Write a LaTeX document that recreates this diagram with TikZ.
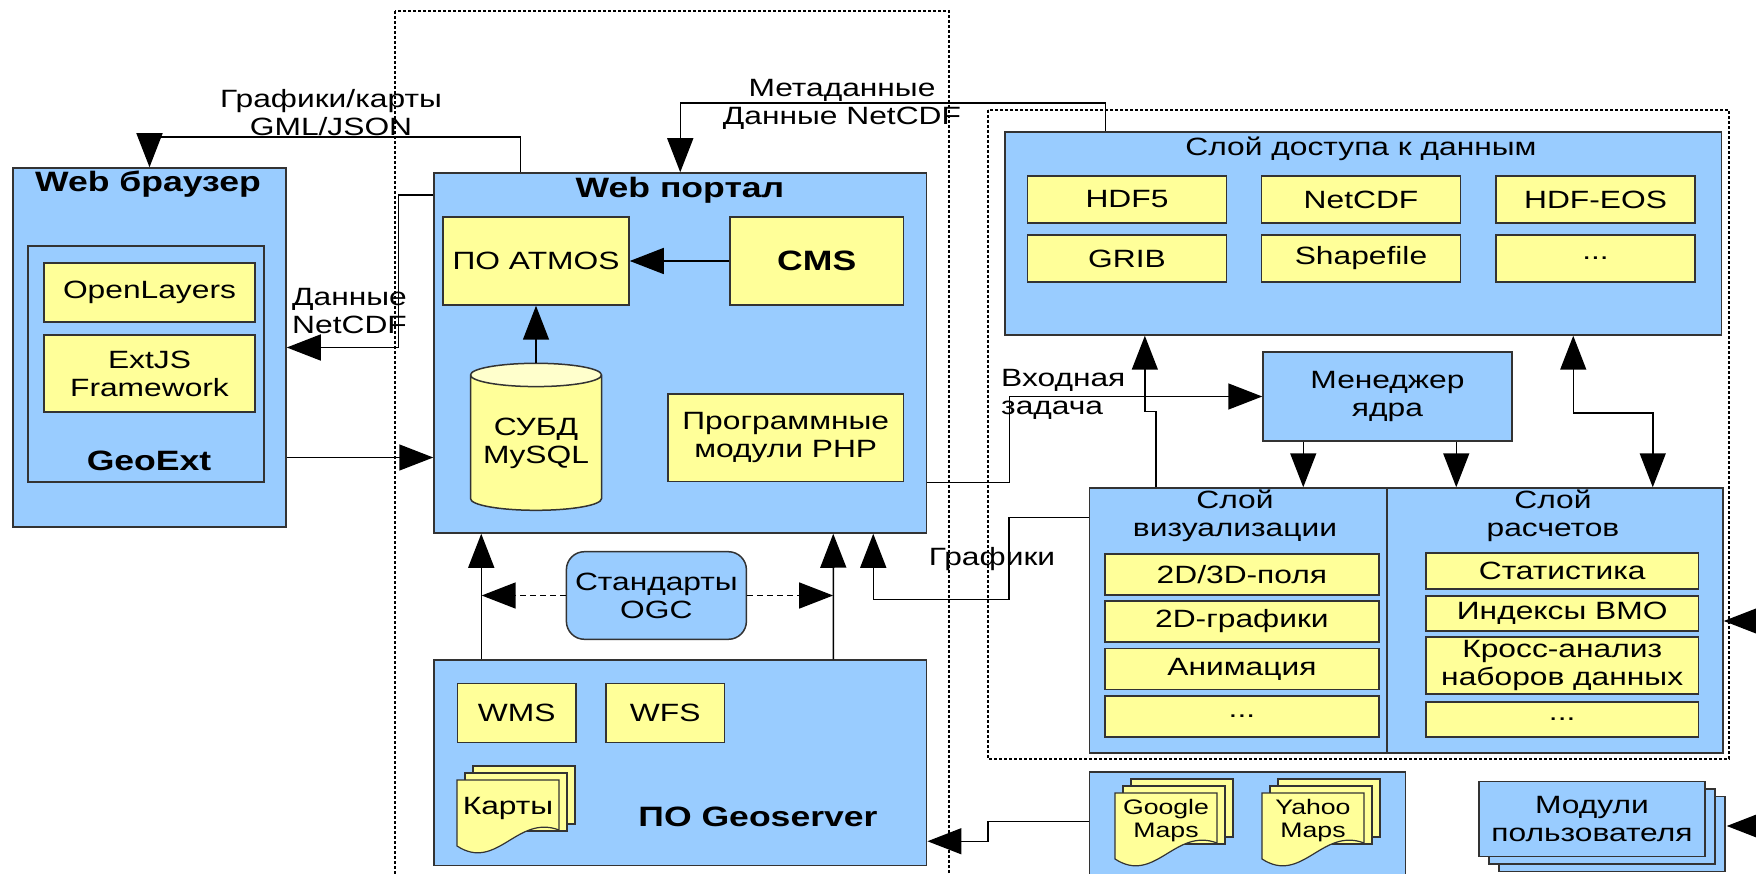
\documentclass[tikz,border=0pt]{standalone}
\usepackage{fontspec}
\setmainfont{Liberation Sans}[FakeStretch=1.27]
\usetikzlibrary{arrows.meta}
\usetikzlibrary{shapes.geometric}
\usetikzlibrary{shadows}
\usetikzlibrary{calc}

\definecolor{boxblue}{HTML}{99CCFF}
\definecolor{boxyellow}{HTML}{FFFF99}
\definecolor{capyellow}{HTML}{FFFFCC}
\definecolor{edge}{HTML}{333333}

\newcommand{\moredots}{...}

\tikzset{
  txt/.style={font=\fontsize{25}{28}\selectfont, align=center, inner sep=0pt},
  ttl/.style={font=\fontsize{28}{31}\selectfont\bfseries, inner sep=0pt},
  bbox/.style={draw=edge, fill=boxblue, line width=1.5pt, inner sep=0pt},
  ybox/.style={draw=edge, fill=boxyellow, line width=1.5pt, txt},
  grp/.style={line width=1.2pt, dash pattern=on 3pt off 2pt},
  arr/.style={line width=1.5pt, -{Triangle[length=34pt,width=26pt]}},
  arr2/.style={line width=1.5pt, {Triangle[length=34pt,width=26pt]}-{Triangle[length=34pt,width=26pt]}},
  sheet/.style={draw=edge, fill=boxyellow, line width=1.2pt},
}

% stack of pages: x, y (front top left), name, font size, text
\newcommand{\docstack}[5]{%
  \foreach \k in {2,1}
    \draw[sheet] ({#1+8*\k},{#2-7*\k}) rectangle ++(102,58);
  \draw[sheet] (#1,#2) -- ++(102,0) -- ++(0,50)
    .. controls ({#1+60},{#2+34}) and ({#1+40},{#2+92}) .. ({#1},{#2+66}) -- cycle;
  \node[txt, font=\fontsize{#4}{23}\selectfont] (#3) at ({#1+51},{#2+28}) {#5};
}

\begin{document}
\begin{tikzpicture}[x=1pt,y=-1pt]
    \useasboundingbox (0,0) rectangle (1756,874);
    \fill[white] (0,0) rectangle (1756,874);
    \clip (0,0) rectangle (1756,874);

    % dashed groups
    \draw[grp] (395,11) rectangle (949,900);
    \draw[grp] (988,110) rectangle (1729,759);

    % browser
    \node[bbox, minimum width=273pt, minimum height=359pt] (browser) at (149.5,347.5) {};
    \node[ttl] (browsertitle) at (148,184) {Web браузер};
    \node[bbox, minimum width=236pt, minimum height=236pt] (geoext) at (146,364) {};
    \node[ttl] (geoexttitle) at (149,461) {GeoExt};
    \node[ybox, minimum width=211pt, minimum height=59pt] (openlayers) at (149.5,292.5) {OpenLayers};
    \node[ybox, minimum width=211pt, minimum height=77pt] (extjs) at (149.5,373.5) {ExtJS\\Framework};

    % portal
    \node[bbox, minimum width=492.5pt, minimum height=360pt] (portal) at (680.25,353) {};
    \node[ttl] (portaltitle) at (680,190) {Web портал};
    \node[ybox, minimum width=186pt, minimum height=88pt] (atmos) at (536,261) {ПО ATMOS};
    \node[ybox, ttl, minimum width=173.5pt, minimum height=88pt] (cms) at (816.75,261) {CMS};
    \node[cylinder, shape border rotate=90, aspect=0.22, draw=edge, line width=1.5pt,
          cylinder uses custom fill, cylinder body fill=boxyellow, cylinder end fill=capyellow,
          minimum width=131pt, minimum height=147pt, txt] (dbms) at (536,443) {СУБД\\MySQL};
    \node[ybox, minimum width=235.5pt, minimum height=87.7pt] (php) at (785.75,437.85) {Программные\\модули PHP};

    \node[bbox, txt, rounded corners=18pt, minimum width=180pt, minimum height=87.6pt] (ogc) at (656.4,595.5) {Стандарты\\OGC};

    % geoserver
    \node[bbox, minimum width=492.7pt, minimum height=205.5pt] (geoserver) at (680.35,762.75) {};
    \node[ttl] (geoservertitle) at (758,817) {ПО Geoserver};
    \node[ybox, minimum width=118.5pt, minimum height=59.4pt] (wms) at (516.7,713) {WMS};
    \node[ybox, minimum width=118.5pt, minimum height=59.4pt] (wfs) at (665.25,713) {WFS};
    \docstack{457}{780}{maps}{25}{Карты}

    % data access layer
    \node[bbox, minimum width=716.5pt, minimum height=203pt] (access) at (1363.25,233.5) {};
    \node[txt] (accesstitle) at (1361,149) {Слой доступа к данным};
    \foreach \x/\y/\t/\n in {1127/199.5/HDF5/hdf, 1361/199.5/NetCDF/netcdf, 1595.5/199.5/HDF-EOS/hdfeos,
                             1127/258.5/GRIB/grib, 1361/258.5/Shapefile/shp, 1595.5/258.5/\moredots/fmtmore}
      \node[ybox, minimum width=199pt, minimum height=47pt] (\n) at (\x,\y) {\t};

    \node[bbox, txt, minimum width=249pt, minimum height=89pt] (kernel) at (1387.5,396.5) {Менеджер\\ядра};

    % visualisation and computation layers
    \node[bbox, minimum width=297.4pt, minimum height=265pt] (vis) at (1238.3,620.5) {};
    \node[bbox, minimum width=336pt, minimum height=265pt] (calc) at (1555,620.5) {};
    \node[txt] (vistitle) at (1235,516) {Слой\\визуализации};
    \node[txt] (calctitle) at (1553,516) {Слой\\расчетов};
    \foreach \y/\t/\n in {574.5/{2D/3D-поля}/vis1, 621.5/2D-графики/vis2, 669/Анимация/vis3, 716.5/\moredots/vis4}
      \node[ybox, minimum width=273.7pt, minimum height=41pt] (\n) at (1241.9,\y) {\t};
    \foreach \y/\h/\t/\n in {571/36/Статистика/calc1, 613.4/35.3/Индексы ВМО/calc2,
                             665.4/57.3/{Кросс-анализ\\наборов данных}/calc3, 719.4/35.3/\moredots/calc4}
      \node[ybox, minimum width=272.4pt, minimum height=\h pt] (\n) at (1562.2,\y) {\t};

    % external maps and user modules
    \node[bbox, minimum width=316pt, minimum height=130pt] (extmaps) at (1247.65,837) {};
    \docstack{1115}{793}{google}{21}{Google\\Maps}
    \docstack{1262}{793}{yahoo}{21}{Yahoo\\Maps}
    \node[bbox, txt, double copy shadow={shadow xshift=10pt, shadow yshift=-7.5pt},
          minimum width=226pt, minimum height=75pt] (usermods) at (1592,819.2) {Модули\\пользователя};

    % connectors
    \draw[arr] ([xshift=87pt]portal.north west) -- ++(0,-35) -| (browser.north);
    \node[txt] (lblgraphmap) at (331,113) {Графики/карты\\GML/JSON};

    \draw[arr] ([xshift=101pt]access.north west) -- ++(0,-28) -| (portal.north);
    \node[txt] (lblmeta) at (842,104) {Метаданные\\Данные NetCDF};

    \draw[arr] ([yshift=-23pt]portal.north west) -- ++(-35,0) |- (browser.east);
    \node[txt, align=left, anchor=west] (lbldata) at (292,311) {Данные\\NetCDF};

    \draw[arr] ($(browser.east)+(0,110)$) coordinate (bp) -- (bp -| portal.west);

    \draw[arr] (cms) -- (atmos);
    \draw[arr] (dbms.north) -- (atmos.south);

    \draw[arr] ([xshift=48pt]geoserver.north west) -- ([xshift=48pt]portal.south west);
    \draw[arr] ([xshift=-94pt]geoserver.north east) -- ([xshift=-94pt]portal.south east);
    \draw[arr, dash pattern=on 6pt off 4pt] (ogc.west) -- ++(-84,0);
    \draw[arr, dash pattern=on 6pt off 4pt] (ogc.east) -- ++(86,0);

    \draw[arr] ([yshift=-30pt]vis.north west) -- ++(-80,0) -- ++(0,82) -| ([xshift=-54pt]portal.south east);
    \node[txt] (lblgraph) at (992,559) {Графики};

    \draw[arr] (portal.east |- php.south) -- ++(82,0) |- (kernel.west);
    \node[txt, align=left, anchor=west] (lbltask) at (1001,394) {Входная\\задача};

    \draw[arr] ([xshift=41pt]kernel.south west) coordinate (k1) -- (k1 |- vis.north);
    \draw[arr] ([xshift=194pt]kernel.south west) coordinate (k2) -- (k2 |- calc.north);

    \draw[arr] ([xshift=67pt]vis.north west) -- ++(0,-76) -- ++(-11,0) coordinate (v1) -- (v1 |- access.south);
    \draw[arr2] ([xshift=-149pt]access.south east) -- ++(0,77) -| ([xshift=-71pt]calc.north east);

    \draw[arr] ([yshift=-50pt]extmaps.north west) -- ++(-101,0) -- ++(0,20) coordinate (e1) -- (e1 -| geoserver.east);

    \coordinate (calcin) at (1790,621);
    \draw[arr] (calcin) -- (calcin -| calc.east);
    \coordinate (modin) at (1790,826);
    \draw[arr] (modin) -- ($(modin -| usermods.east)+(21,0)$);
\end{tikzpicture}
\end{document}
